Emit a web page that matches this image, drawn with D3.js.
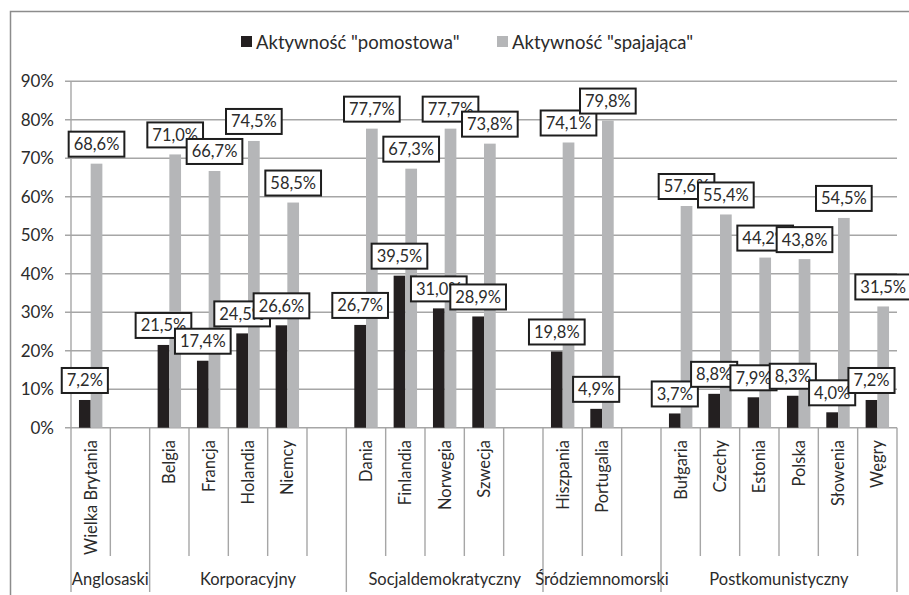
<!DOCTYPE html>
<html>
<head>
<meta charset="utf-8">
<script src="https://cdn.jsdelivr.net/npm/d3@7"></script>
<style>
  body { margin: 0; background: #fff; }
  svg text { font-family: Lato, "Open Sans", sans-serif; fill: #2b2b2b; }
</style>
</head>
<body>
<div id="chart"></div>
<script>
// Data

var countries = ["Wielka Brytania", "",
    "Belgia", "Francja", "Holandia", "Niemcy", "",
    "Dania", "Finlandia", "Norwegia", "Szwecja", "",
    "Hiszpania", "Portugalia", "",
    "Bułgaria", "Czechy", "Estonia", "Polska", "Słowenia", "Węgry"];

var groups = ["Anglosaski", "Korporacyjny", "Socjaldemokratyczny", "Śródziemnomorski", "Postkomunistyczny"];
var groupSlots = [2, 5, 5, 3, 6];

var seriesNames = ["Aktywność \"pomostowa\"", "Aktywność \"spajająca\""];

var pomostowa = [7.2, null,
    21.5, 17.4, 24.5, 26.6, null,
    26.7, 39.5, 31.0, 28.9, null,
    19.8, 4.9, null,
    3.7, 8.8, 7.9, 8.3, 4.0, 7.2];

var spajajaca = [68.6, null,
    71.0, 66.7, 74.5, 58.5, null,
    77.7, 67.3, 77.7, 73.8, null,
    74.1, 79.8, null,
    57.6, 55.4, 44.2, 43.8, 54.5, 31.5];

var yTicks = [0, 10, 20, 30, 40, 50, 60, 70, 80, 90];

var colors = ["#231f20", "#b5b6b8"];

// Chart variables

var width = 909,
    height = 595;

var x = d3.scaleBand()
    .domain(d3.range(countries.length))
    .range([71, 897]);

var inner = d3.scaleBand()
    .domain([0, 1])
    .range([0, x.bandwidth()])
    .paddingOuter(0.68);

var y = d3.scaleLinear()
    .domain([0, 90])
    .range([427.7, 81.3]);

var svg = d3.select("#chart").append("svg")
    .attr("width", width)
    .attr("height", height);

// Frame (right and bottom edges fall outside the picture)
svg.append("rect")
    .attr("x", 10.5)
    .attr("y", 11.5)
    .attr("width", 960)
    .attr("height", 700)
    .attr("fill", "none")
    .attr("stroke", "#8c8c8c")
    .attr("stroke-width", 1.5);

// Legend
var legend = svg.append("g").attr("transform", "translate(241,36)");
var legendX = [0, 256];
seriesNames.forEach(function(name, i) {
    var item = legend.append("g").attr("transform", "translate(" + legendX[i] + ",0)");
    item.append("rect")
        .attr("width", 11)
        .attr("height", 11)
        .attr("fill", colors[i]);
    item.append("text")
        .attr("x", 15)
        .attr("y", 12.5)
        .style("font-size", "18.5px")
        .text(name);
});

// Gridlines
svg.append("g")
    .selectAll("line")
    .data(yTicks)
    .enter().append("line")
    .attr("x1", 65)
    .attr("x2", 897)
    .attr("y1", function(d) { return y(d); })
    .attr("y2", function(d) { return y(d); })
    .attr("stroke", "#a6a6a6")
    .attr("stroke-width", 1.4);

svg.append("line")
    .attr("x1", 71).attr("x2", 71)
    .attr("y1", y(90)).attr("y2", y(0))
    .attr("stroke", "#a6a6a6")
    .attr("stroke-width", 1.4);

svg.append("g")
    .selectAll("text")
    .data(yTicks)
    .enter().append("text")
    .attr("x", 54)
    .attr("y", function(d) { return y(d); })
    .attr("dy", "0.36em")
    .attr("text-anchor", "end")
    .style("font-size", "17px")
    .text(function(d) { return d + "%"; });

// Category ticks
var groupEdges = [0];
groupSlots.forEach(function(n, i) { groupEdges.push(groupEdges[i] + n); });

var edges = d3.range(countries.length + 1);
svg.append("g")
    .selectAll("line")
    .data(edges)
    .enter().append("line")
    .attr("x1", function(d) { return d < countries.length ? x(d) : x.range()[1]; })
    .attr("x2", function(d) { return d < countries.length ? x(d) : x.range()[1]; })
    .attr("y1", y(0))
    .attr("y2", function(d) { return groupEdges.indexOf(d) >= 0 ? 592 : 556; })
    .attr("stroke", "#a6a6a6")
    .attr("stroke-width", 1.4);

svg.append("g")
    .selectAll("text")
    .data(countries)
    .enter().append("text")
    .attr("transform", function(d, i) {
        return "translate(" + (x(i) + x.bandwidth() / 2) + ",440) rotate(-90)";
    })
    .attr("dy", "0.36em")
    .attr("text-anchor", "end")
    .style("font-size", "16.5px")
    .text(function(d) { return d; });

svg.append("g")
    .selectAll("text")
    .data(groups)
    .enter().append("text")
    .attr("x", function(d, i) {
        var a = x(groupEdges[i]);
        var b = groupEdges[i + 1] < countries.length ? x(groupEdges[i + 1]) : x.range()[1];
        return (a + b) / 2;
    })
    .attr("y", 585)
    .attr("text-anchor", "middle")
    .style("font-size", "16.5px")
    .text(function(d) { return d; });

// Bars
var series = [pomostowa, spajajaca];

series.forEach(function(values, s) {
    svg.append("g")
        .selectAll("rect")
        .data(values.map(function(v, i) { return {i: i, v: v}; })
            .filter(function(d) { return d.v !== null; }))
        .enter().append("rect")
        .attr("x", function(d) { return x(d.i) + inner(s); })
        .attr("width", inner.bandwidth())
        .attr("y", function(d) { return y(d.v); })
        .attr("height", function(d) { return y(0) - y(d.v); })
        .attr("fill", colors[s]);
});

// Data labels
var fmt = function(v) { return v.toFixed(1).replace(".", ",") + "%"; };

series.forEach(function(values, s) {
    values.forEach(function(v, i) {
        if (v === null) return;
        var cx = x(i) + inner(s) + inner.bandwidth() / 2;
        var bottom = y(v) - 7;
        var g = svg.append("g");
        var box = g.append("rect");
        var t = g.append("text")
            .attr("x", cx)
            .attr("y", bottom - 12.5)
            .attr("dy", "0.36em")
            .attr("text-anchor", "middle")
            .style("font-size", "16.5px")
            .text(fmt(v));
        var w = t.node().getComputedTextLength() + 10;
        box.attr("x", cx - w / 2)
            .attr("y", bottom - 25)
            .attr("width", w)
            .attr("height", 25)
            .attr("fill", "#fff")
            .attr("stroke", "#1e1e1e")
            .attr("stroke-width", 2);
    });
});
</script>
</body>
</html>
